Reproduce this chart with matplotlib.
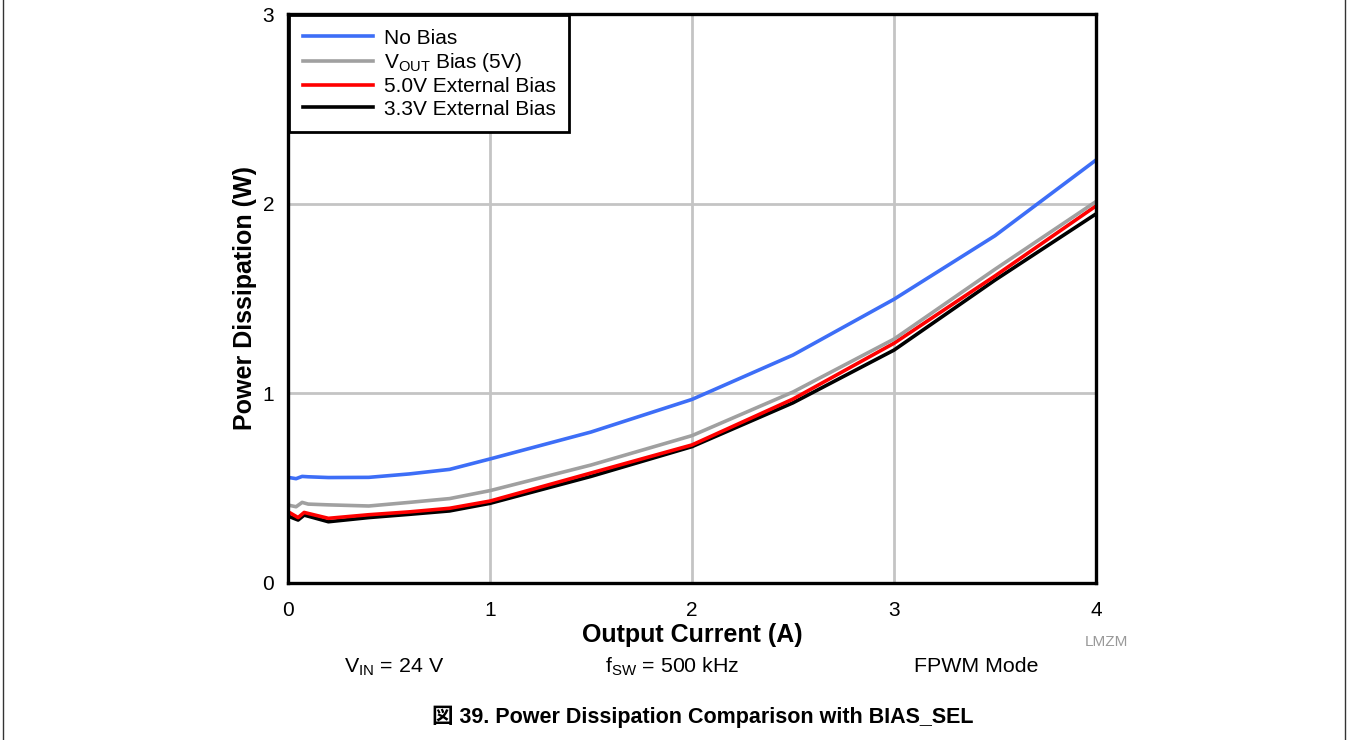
import matplotlib
matplotlib.use("Agg")
import matplotlib.pyplot as plt
from matplotlib.lines import Line2D

plt.rcParams['font.family'] = ['Liberation Sans', 'Noto Sans CJK JP', 'DejaVu Sans']
plt.rcParams['mathtext.fontset'] = 'custom'
plt.rcParams['mathtext.rm'] = 'Liberation Sans'
plt.rcParams['mathtext.it'] = 'Liberation Sans:italic'
plt.rcParams['mathtext.bf'] = 'Liberation Sans:bold'

# data
x_upper = [0, 0.04, 0.07, 0.1, 0.2, 0.4, 0.6, 0.8, 1.0, 1.5, 2.0, 2.5, 3.0, 3.5, 4.0]
no_bias = [0.557, 0.550, 0.562, 0.560, 0.556, 0.557, 0.575, 0.599, 0.654, 0.796, 0.968, 1.202, 1.496, 1.831, 2.230]
vout_bias = [0.411, 0.402, 0.425, 0.416, 0.412, 0.406, 0.425, 0.445, 0.487, 0.622, 0.777, 1.007, 1.286, 1.654, 2.011]

x_lower = [0, 0.05, 0.08, 0.2, 0.4, 0.6, 0.8, 1.0, 1.5, 2.0, 2.5, 3.0, 3.5, 4.0]
ext_5v = [0.376, 0.345, 0.372, 0.341, 0.360, 0.375, 0.394, 0.432, 0.580, 0.728, 0.970, 1.264, 1.619, 1.988]
ext_3v3 = [0.353, 0.332, 0.358, 0.323, 0.345, 0.362, 0.380, 0.420, 0.562, 0.719, 0.950, 1.228, 1.597, 1.946]

series_names = ["No Bias", "V$_{\\mathrm{OUT}}$ Bias (5V)", "5.0V External Bias", "3.3V External Bias"]
series_colors = ["#3d6ef7", "#a0a0a0", "#ff0000", "#000000"]

x_ticks = [0, 1, 2, 3, 4]
y_ticks = [0, 1, 2, 3]

fig = plt.figure(figsize=(13.48, 7.40), dpi=100)
ax = fig.add_axes([288/1348, 1 - 583/740, (1096-288)/1348, (583-14)/740])

# lower curves first so upper ones sit on top, red over black
ax.plot(x_lower, ext_3v3, color=series_colors[3], lw=2.6, zorder=3)
ax.plot(x_lower, ext_5v, color=series_colors[2], lw=2.6, zorder=4)
ax.plot(x_upper, vout_bias, color=series_colors[1], lw=2.6, zorder=5)
ax.plot(x_upper, no_bias, color=series_colors[0], lw=2.6, zorder=6)

ax.set_xlim(0, 4)
ax.set_ylim(0, 3)
ax.set_xticks(x_ticks)
ax.set_yticks(y_ticks)
ax.tick_params(length=0, labelsize=15)
ax.tick_params(axis="x", pad=13)
ax.tick_params(axis="y", pad=10)
ax.grid(True, color="#c4c4c4", lw=2)
ax.set_axisbelow(True)
for s in ax.spines.values():
    s.set_linewidth(2.4)
    s.set_zorder(10)

ax.set_xlabel("Output Current (A)", fontsize=18, fontweight="bold", labelpad=2)
ax.set_ylabel("Power Dissipation (W)", fontsize=18, fontweight="bold", labelpad=4)

handles = [Line2D([], [], color=c, lw=2.6) for c in series_colors]
leg = ax.legend(handles, series_names, loc="upper left", fontsize=15,
                borderaxespad=0.05, fancybox=False, framealpha=1,
                edgecolor="black", handlelength=3.4, handletextpad=0.5,
                labelspacing=0.16, borderpad=0.65)
leg.get_frame().set_linewidth(2)
leg.set_zorder(20)

fig.text(1085/1348, 1 - 642/740, "LMZM", fontsize=11, color="#999999", ha="left", va="center")
fig.text(394/1348, 1 - 667/740, "V$_{\\mathrm{IN}}$ = 24 V", fontsize=15.4, ha="center", va="center")
fig.text(672/1348, 1 - 667/740, "f$_{\\mathrm{SW}}$ = 500 kHz", fontsize=15.4, ha="center", va="center")
fig.text(976/1348, 1 - 667/740, "FPWM Mode", fontsize=15.4, ha="center", va="center")
fig.text(703/1348, 1 - 717/740, "図 39. Power Dissipation Comparison with BIAS_SEL",
         fontsize=15.5, fontweight="bold", ha="center", va="center")

# page side borders
fig.add_artist(Line2D([3/1348, 3/1348], [0, 1], color="#333333", lw=1))
fig.add_artist(Line2D([1345/1348, 1345/1348], [0, 1], color="#333333", lw=1))

fig.savefig("out.png", dpi=100)
